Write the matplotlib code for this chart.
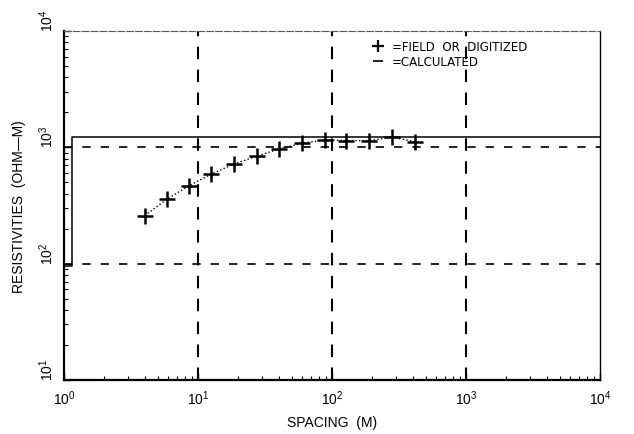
import matplotlib
matplotlib.use('Agg')
import matplotlib.pyplot as plt
from matplotlib.lines import Line2D

plt.rcParams['font.family'] = ['Liberation Sans', 'DejaVu Sans']

spacing = [4.0, 5.9, 8.6, 12.6, 18.6, 27.5, 40, 60, 89, 128, 188, 282, 417]
rho_field = [259, 360, 469, 590, 720, 838, 968, 1084, 1158, 1143, 1143, 1222, 1120]

# calculated layered model (step)
model_depth = [1.0, 1.15, 1e4]
model_rho = [96, 1227, 1227]

xticks = [1, 10, 100, 1000, 10000]
xticklabels = ['$\\mathregular{10^0}$', '$\\mathregular{10^1}$', '$\\mathregular{10^2}$',
               '$\\mathregular{10^3}$', '$\\mathregular{10^4}$']
yticks = [10, 100, 1000, 10000]
yticklabels = ['$\\mathregular{10^1}$', '$\\mathregular{10^2}$', '$\\mathregular{10^3}$',
               '$\\mathregular{10^4}$']

fig = plt.figure(figsize=(6.34, 4.35), dpi=100)
ax = fig.add_axes([64 / 634, 1 - 381 / 435, 536 / 634, 349 / 435])
ax.set_xscale('log')
ax.set_yscale('log')
ax.set_xlim(1, 1e4)
ax.set_ylim(10, 1e4)

# dashed grid at inner decades
for xv in xticks[1:-1]:
    ax.axvline(xv, color='black', ls=(0, (6, 5)), lw=1.5)
for yv in yticks[1:-1]:
    ax.axhline(yv, color='black', ls=(0, (5, 6)), lw=1.2)

ax.step(model_depth, model_rho, where='post', color='black', lw=1.1)
ax.plot(spacing, rho_field, color='black', ls=':', lw=1.0,
        marker='+', ms=11, mew=1.8)

handles = [Line2D([], [], color='black', ls='none', marker='+', ms=9, mew=1.6),
           Line2D([], [], color='black', ls='none', marker='_', ms=7, mew=1.2)]
ax.legend(handles, ['=FIELD  OR  DIGITIZED', '=CALCULATED'], loc='upper left',
          bbox_to_anchor=(0.555, 1.0), frameon=False,
          prop={'family': 'DejaVu Sans', 'size': 8.5},
          handlelength=1.2, handletextpad=0.6, labelspacing=0.15, borderpad=0.3)

ax.set_xticks(xticks)
ax.set_xticklabels(xticklabels, fontsize=10)
ax.set_yticks(yticks)
ax.set_yticklabels(yticklabels, fontsize=10, rotation=90, va='bottom')
ax.tick_params(which='both', direction='in', top=False, right=False)
ax.tick_params(which='major', length=5, width=1.0, pad=6)
ax.tick_params(which='minor', length=3, width=0.8)

for s in ['left', 'bottom']:
    ax.spines[s].set_linewidth(1.6)
ax.spines['right'].set_linewidth(1.0)
ax.spines['top'].set_linewidth(0.8)
ax.spines['top'].set_linestyle((0, (6, 2)))
ax.spines['top'].set_color('0.35')

ax.set_xlabel('SPACING  (M)', fontsize=10, labelpad=6)
ax.set_ylabel('RESISTIVITIES  (OHM\u2014M)', fontsize=10, labelpad=8)

fig.savefig('out.png', dpi=100)
